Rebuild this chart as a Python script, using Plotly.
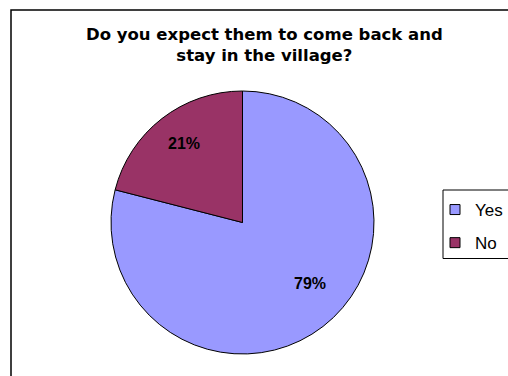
import plotly.graph_objects as go

# Survey answers and their shares (percent)
answers = ["Yes", "No"]
shares = [79, 21]
slice_colors = ["#9999FF", "#993366"]

title_text = "Do you expect them to come back and<br>stay in the village?"

W, H = 508, 376

# Pie geometry in pixels (centre and radius)
CX, CY, R = 242.5, 222.5, 131.5
# Percentage label positions in pixels, one per answer
label_px = [(310, 283.5), (184, 143.5)]


def px_x(x):
    return x / W


def px_y(y):
    return 1 - y / H


fig = go.Figure()

fig.add_trace(go.Pie(
    labels=answers,
    values=shares,
    sort=False,
    direction="clockwise",
    rotation=0,
    marker=dict(colors=slice_colors, line=dict(color="#000000", width=1)),
    textinfo="none",
    hoverinfo="skip",
    showlegend=False,
    domain=dict(x=[px_x(CX - R), px_x(CX + R)], y=[px_y(CY + R), px_y(CY - R)]),
))

# Legend entries, one per answer
for name, color in zip(answers, slice_colors):
    fig.add_trace(go.Scatter(
        x=[None], y=[None], mode="markers", name=name, legendgroup=name,
        marker=dict(symbol="square", size=10, color=color,
                    line=dict(color="#000000", width=1)),
        hoverinfo="skip",
    ))

# Percentage labels on the slices
for share, (lx, ly) in zip(shares, label_px):
    fig.add_annotation(
        text=f"{share}%", xref="paper", yref="paper",
        x=px_x(lx), y=px_y(ly), xanchor="center", yanchor="middle",
        showarrow=False,
        font=dict(family="Liberation Sans", size=16, color="#000000", weight="bold"),
    )

# Chart title
fig.add_annotation(
    text=title_text, xref="paper", yref="paper",
    x=px_x(264), y=px_y(23), xanchor="center", yanchor="top",
    showarrow=False, align="center",
    font=dict(family="DejaVu Sans", size=16.5, color="#000000", weight="bold"),
)

# Outer chart frame (continues past the right and bottom edges)
fig.add_shape(type="rect", xref="paper", yref="paper",
              x0=px_x(11), x1=1.05, y0=-0.05, y1=px_y(10),
              line=dict(color="#000000", width=1.5), fillcolor="rgba(0,0,0,0)")

# Legend box
fig.add_shape(type="rect", xref="paper", yref="paper",
              x0=px_x(443), x1=px_x(509), y0=px_y(258.5), y1=px_y(190),
              line=dict(color="#000000", width=1), fillcolor="rgba(0,0,0,0)")

fig.update_layout(
    width=W, height=H,
    margin=dict(l=0, r=0, t=0, b=0),
    paper_bgcolor="#FFFFFF",
    plot_bgcolor="#FFFFFF",
    xaxis=dict(visible=False, domain=[0, 0.01]),
    yaxis=dict(visible=False, domain=[0, 0.01]),
    showlegend=True,
    legend=dict(
        x=px_x(435), y=px_y(192), xanchor="left", yanchor="top",
        borderwidth=0, bgcolor="rgba(0,0,0,0)",
        font=dict(family="Liberation Sans", size=17, color="#000000"),
        traceorder="grouped", tracegroupgap=8,
        itemwidth=30, itemclick=False, itemdoubleclick=False,
    ),
)

fig.write_html("out.html")
